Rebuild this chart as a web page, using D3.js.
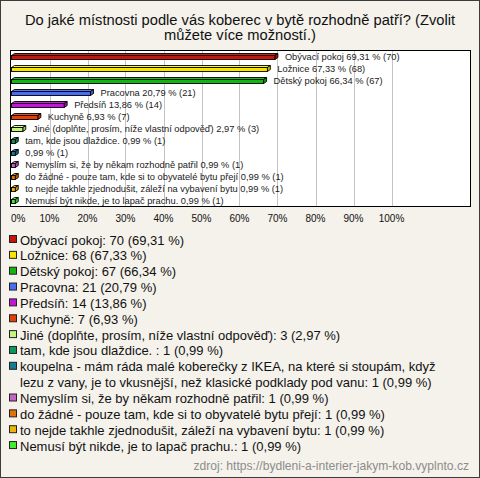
<!DOCTYPE html>
<html><head><meta charset="utf-8">
<script src="https://cdn.jsdelivr.net/npm/d3@7"></script>
<style>html,body{margin:0;padding:0;background:#f4f2eb;}svg{display:block;}</style>
</head><body>
<script>
const titleLines = ["Do jaké místnosti podle vás koberec v bytě rozhodně patří? (Zvolit", "můžete více možností.)"];
const categories = [
  "Obývací pokoj",
  "Ložnice",
  "Dětský pokoj",
  "Pracovna",
  "Předsíň",
  "Kuchyně",
  "Jiné (doplňte, prosím, níže vlastní odpověď)",
  "tam, kde jsou dlaždice. ",
  "koupelna - mám ráda malé koberečky z IKEA, na které si stoupám, když lezu z vany, je to vkusnější, než klasické podklady pod vanu",
  "Nemyslím si, že by někam rozhodně patřil",
  "do žádné - pouze tam, kde si to obyvatelé bytu přejí",
  "to nejde takhle zjednodušit, záleží na vybavení bytu",
  "Nemusí být nikde, je to lapač prachu."
];
const barNames = [
  "Obývací pokoj", "Ložnice", "Dětský pokoj", "Pracovna", "Předsíň", "Kuchyně",
  "Jiné (doplňte, prosím, níže vlastní odpověď)", "tam, kde jsou dlaždice. ", "",
  "Nemyslím si, že by někam rozhodně patřil",
  "do žádné - pouze tam, kde si to obyvatelé bytu přejí",
  "to nejde takhle zjednodušit, záleží na vybavení bytu",
  "Nemusí být nikde, je to lapač prachu."
];
const counts = [70, 68, 67, 21, 14, 7, 3, 1, 1, 1, 1, 1, 1];
const percents = [69.31, 67.33, 66.34, 20.79, 13.86, 6.93, 2.97, 0.99, 0.99, 0.99, 0.99, 0.99, 0.99];
const colors = ["#c4170c", "#f7e400", "#14b414", "#4a6cf0", "#c414d8", "#e0400c", "#c4f47c", "#0c985c", "#147c94", "#c464c4", "#e0740c", "#ecb40c", "#44ec34"];
const xTicks = [0, 10, 20, 30, 40, 50, 60, 70, 80, 90, 100];
const legendLines = [
  ["Obývací pokoj: 70 (69,31 %)"],
  ["Ložnice: 68 (67,33 %)"],
  ["Dětský pokoj: 67 (66,34 %)"],
  ["Pracovna: 21 (20,79 %)"],
  ["Předsíň: 14 (13,86 %)"],
  ["Kuchyně: 7 (6,93 %)"],
  ["Jiné (doplňte, prosím, níže vlastní odpověď): 3 (2,97 %)"],
  ["tam, kde jsou dlaždice. : 1 (0,99 %)"],
  ["koupelna - mám ráda malé koberečky z IKEA, na které si stoupám, když", "lezu z vany, je to vkusnější, než klasické podklady pod vanu: 1 (0,99 %)"],
  ["Nemyslím si, že by někam rozhodně patřil: 1 (0,99 %)"],
  ["do žádné - pouze tam, kde si to obyvatelé bytu přejí: 1 (0,99 %)"],
  ["to nejde takhle zjednodušit, záleží na vybavení bytu: 1 (0,99 %)"],
  ["Nemusí být nikde, je to lapač prachu.: 1 (0,99 %)"]
];
const sourceText = "zdroj: https://bydleni-a-interier-jakym-kob.vyplnto.cz";

const W = 480, H = 478;
const font = "Liberation Sans, Arial, sans-serif";
const svg = d3.select("body").append("svg").attr("width", W).attr("height", H);
svg.append("rect").attr("x", 0.5).attr("y", 0.5).attr("width", W - 1).attr("height", H - 1)
  .attr("fill", "#f4f2eb").attr("stroke", "#3c3c3c");

// title
svg.append("g").selectAll("text").data(titleLines).join("text")
  .attr("x", 240).attr("y", (d, i) => 25 + i * 14.5)
  .attr("text-anchor", "middle").attr("font-family", font).attr("font-size", 14.7)
  .attr("fill", "#111").text(d => d);

// plot
const plot = {left: 10.5, right: 470.5, top: 50.5, bottom: 206.5};
const x = d3.scaleLinear().domain([0, 100]).range([11.5, 391.5]);
const y = d3.scaleBand().domain(d3.range(categories.length)).range([plot.top, plot.bottom]);

svg.append("rect").attr("x", plot.left).attr("y", plot.top)
  .attr("width", plot.right - plot.left).attr("height", plot.bottom - plot.top)
  .attr("fill", "#fff");

svg.append("g").selectAll("line").data(xTicks.filter(t => t > 0)).join("line")
  .attr("x1", d => Math.round(x(d)) + 0.5).attr("x2", d => Math.round(x(d)) + 0.5)
  .attr("y1", plot.top).attr("y2", plot.bottom)
  .attr("stroke", "#c4c4c4").attr("stroke-width", 1);

svg.append("rect").attr("x", plot.left).attr("y", plot.top)
  .attr("width", plot.right - plot.left).attr("height", plot.bottom - plot.top)
  .attr("fill", "none").attr("stroke", "#000");

// bars (3D)
const dx = 3, dy = 2, bh = 4;
const bars = svg.append("g").selectAll("g").data(percents).join("g");
bars.each(function(v, i) {
  const g = d3.select(this);
  const cy = y(i) + y.bandwidth() / 2;
  const x0 = x(0), x1 = x(v);
  const top = cy - 1;
  const c = d3.color(colors[i]);
  g.append("polygon")
    .attr("points", [[x0, top], [x0 + dx, top - dy], [x1 + dx, top - dy], [x1, top]].join(" "))
    .attr("fill", c.brighter(0.3)).attr("stroke", "#000").attr("stroke-width", 0.9).attr("stroke-linejoin", "round");
  g.append("polygon")
    .attr("points", [[x1, top], [x1 + dx, top - dy], [x1 + dx, top - dy + bh], [x1, top + bh]].join(" "))
    .attr("fill", c.darker(0.5)).attr("stroke", "#000").attr("stroke-width", 0.9).attr("stroke-linejoin", "round");
  g.append("rect").attr("x", x0).attr("y", top).attr("width", x1 - x0).attr("height", bh)
    .attr("fill", c).attr("stroke", "#000").attr("stroke-width", 0.9);
  g.append("text").attr("x", x1 + 10).attr("y", cy + 3.2)
    .attr("font-family", font).attr("font-size", 9.3).attr("fill", "#1a1a1a")
    .text((barNames[i] ? barNames[i] + " " : "") + d3.format(".2f")(v).replace(".", ",") + " % (" + counts[i] + ")");
});

// x axis labels
svg.append("g").selectAll("text").data(xTicks).join("text")
  .attr("x", d => d === 0 ? 11 : x(d))
  .attr("y", 222)
  .attr("text-anchor", d => d === 0 ? "start" : "middle")
  .attr("font-family", font).attr("font-size", 10).attr("fill", "#111")
  .text(d => d + "%");

// legend
const lg = svg.append("g");
let line = 0;
const ly0 = 240, lstep = 15.85;
legendLines.forEach((lines, i) => {
  const cy = ly0 + line * lstep;
  lg.append("rect").attr("x", 9.5).attr("y", cy - 4.5).attr("width", 7).attr("height", 7)
    .attr("fill", colors[i]).attr("stroke", "#222").attr("stroke-width", 1);
  lines.forEach((t, j) => {
    lg.append("text").attr("x", 20).attr("y", cy + j * lstep + 4.5)
      .attr("font-family", font).attr("font-size", 13).attr("fill", "#111").text(t);
  });
  line += lines.length;
});

svg.append("text").attr("x", 469).attr("y", 470).attr("text-anchor", "end")
  .attr("font-family", font).attr("font-size", 12.1).attr("fill", "#8c8c8c").text(sourceText);
</script>
</body></html>
